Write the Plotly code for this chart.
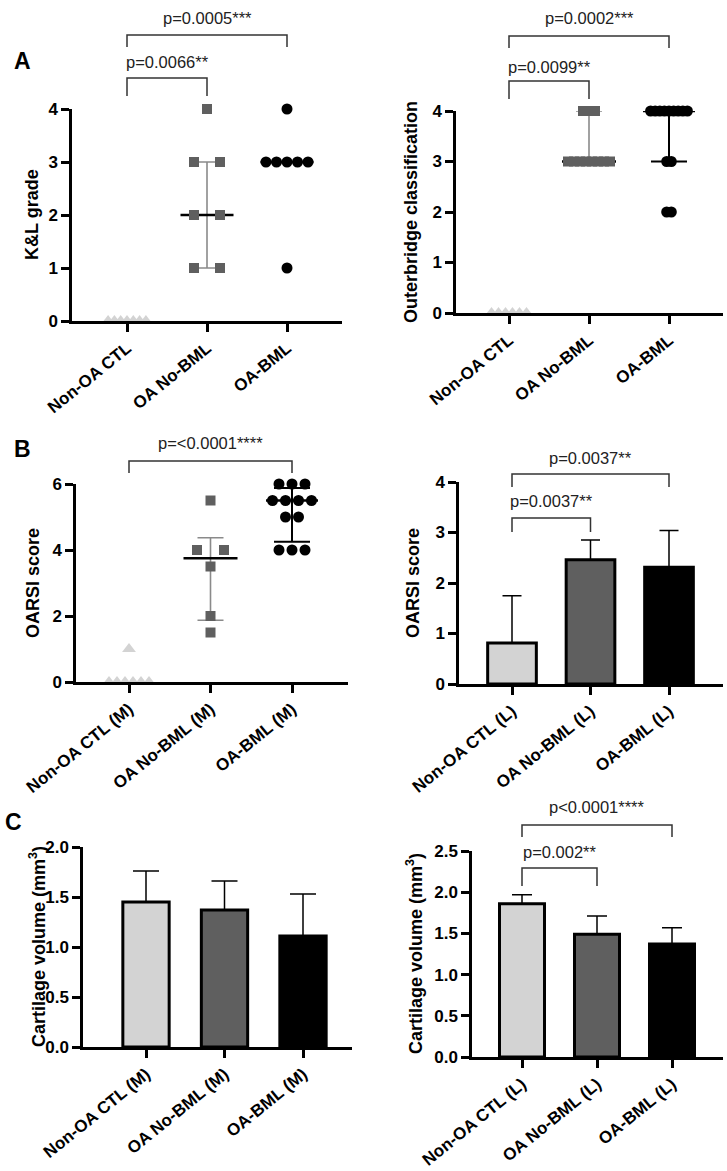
import plotly.graph_objects as go
from collections import Counter

W, H = 727, 1171
FONT = "Liberation Sans, Arial, Helvetica, sans-serif"

# ---------------- data ----------------
cats_A = ["Non-OA CTL", "OA No-BML", "OA-BML"]
cats_M = ["Non-OA CTL (M)", "OA No-BML (M)", "OA-BML (M)"]
cats_L = ["Non-OA CTL (L)", "OA No-BML (L)", "OA-BML (L)"]

# A left: K&L grade (individual values, median with IQR)
kl_ctl = [0, 0, 0, 0, 0, 0, 0]
kl_nobml = [4, 3, 3, 2, 2, 1, 1]
kl_bml = [4, 3, 3, 3, 3, 3, 1]
kl_center = [0, 2, 3]
kl_low = [0, 1, 3]
kl_high = [0, 3, 3]

# A right: Outerbridge classification
ob_ctl = [0, 0, 0, 0, 0, 0]
ob_nobml = [4, 4, 4, 3, 3, 3, 3, 3, 3, 3, 3]
ob_bml = [4, 4, 4, 4, 4, 4, 4, 4, 4, 3, 3, 2, 2]
ob_center = [0, 3, 4]
ob_low = [0, 3, 3]
ob_high = [0, 4, 4]

# B left: OARSI score (M), mean with SD
om_ctl = [1, 0, 0, 0, 0, 0, 0]
om_nobml = [5.5, 4, 4, 3.5, 2, 1.5]
om_bml = [6, 6, 6, 5.5, 5.5, 5.5, 5.5, 5, 5, 4, 4, 4]
om_center = [0, 3.75, 5.5]
om_low = [0, 1.87, 4.25]
om_high = [0, 4.37, 5.88]

# B right: OARSI score (L), mean + SD
ol_mean = [0.81, 2.46, 2.31]
ol_sd = [0.94, 0.39, 0.73]

# C: cartilage volume (mm^3), mean + SD
vm_mean = [1.45, 1.37, 1.11]
vm_sd = [0.31, 0.29, 0.42]
vl_mean = [1.86, 1.49, 1.37]
vl_sd = [0.11, 0.22, 0.20]

# p-value labels
p_A1 = ["p=0.0005***", "p=0.0066**"]
p_A2 = ["p=0.0002***", "p=0.0099**"]
p_B1 = ["p=<0.0001****"]
p_B2 = ["p=0.0037**", "p=0.0037**"]
p_C2 = ["p<0.0001****", "p=0.002**"]

# ---------------- styles ----------------
C_LIGHT = "#d3d3d3"
C_DARK = "#5f5f5f"
C_BLACK = "#000000"
C_ERRGRAY = "#8a8a8a"
BAR_COLORS = [C_LIGHT, C_DARK, C_BLACK]

# panel geometry in pixels: axis x extent, tick 0 / tick 2 x, axis y bottom/top
panels = {
    1: dict(px=(72, 342), tk=(127, 287), py=(321, 109), yr=[0, 4], dt=1, fmt="d",
            cats=cats_A, title="K&L grade", tx=32),
    2: dict(px=(456, 723), tk=(509, 669), py=(313, 111), yr=[0, 4], dt=1, fmt="d",
            cats=cats_A, title="Outerbridge classification", tx=411),
    3: dict(px=(76, 348), tk=(129, 292), py=(682, 484), yr=[0, 6], dt=2, fmt="d",
            cats=cats_M, title="OARSI score", tx=33),
    4: dict(px=(459, 723), tk=(512, 669), py=(684, 482), yr=[0, 4], dt=1, fmt="d",
            cats=cats_L, title="OARSI score", tx=413),
    5: dict(px=(83, 352), tk=(146, 303), py=(1047, 847), yr=[0, 2], dt=0.5, fmt=".1f",
            cats=cats_M, title="Cartilage volume (mm<sup>3</sup>)", tx=37),
    6: dict(px=(472, 723), tk=(522, 672), py=(1057, 851), yr=[0, 2.5], dt=0.5, fmt=".1f",
            cats=cats_L, title="Cartilage volume (mm<sup>3</sup>)", tx=414),
}


def yp(pix):
    return 1 - pix / H


def sfx(n):
    return "" if n == 1 else str(n)


def swarm(values, step):
    counts = Counter(values)
    seen = {}
    out = []
    for v in values:
        k = seen.get(v, 0)
        seen[v] = k + 1
        out.append((k - (counts[v] - 1) / 2) * step)
    return out


fig = go.Figure()
layout = dict(
    width=W, height=H, margin=dict(l=0, r=0, t=0, b=0),
    paper_bgcolor="white", plot_bgcolor="white", showlegend=False,
    font=dict(family=FONT, color="black"),
)
annotations = []
shapes = []

for n, p in panels.items():
    sp = (p["tk"][1] - p["tk"][0]) / 2
    p["sp"] = sp
    xr = [(p["px"][0] - p["tk"][0]) / sp, (p["px"][1] - p["tk"][0]) / sp]
    s = sfx(n)
    layout["xaxis" + s] = dict(
        domain=[p["px"][0] / W, p["px"][1] / W], range=xr, anchor="y" + s,
        tickmode="array", tickvals=[0, 1, 2], ticktext=p["cats"], tickangle=-39,
        tickfont=dict(family=FONT, size=17, color="black", weight="bold"),
        showline=True, linewidth=2.5, linecolor="black", ticks="outside",
        ticklen=8, tickwidth=2.5, tickcolor="black", showgrid=False,
        zeroline=False, automargin=False, fixedrange=True,
    )
    layout["yaxis" + s] = dict(
        domain=[yp(p["py"][0]), yp(p["py"][1])], range=p["yr"], anchor="x" + s,
        tick0=0, dtick=p["dt"], tickformat=p["fmt"],
        tickfont=dict(family=FONT, size=17, color="black", weight="bold"),
        showline=True, linewidth=2.5, linecolor="black", ticks="outside",
        ticklen=8, tickwidth=2.5, tickcolor="black", showgrid=False,
        zeroline=False, automargin=False, fixedrange=True,
    )
    annotations.append(dict(
        xref="paper", yref="paper", x=p["tx"] / W,
        y=(yp(p["py"][0]) + yp(p["py"][1])) / 2, text=p["title"], textangle=-90,
        showarrow=False, xanchor="center", yanchor="middle",
        font=dict(family=FONT, size=18, color="black", weight="bold"),
    ))


def add_points(n, i, values, symbol, color, size, step_px):
    s = sfx(n)
    offs = swarm(values, step_px / panels[n]["sp"])
    fig.add_trace(go.Scatter(
        x=[i + o for o in offs], y=values, mode="markers",
        marker=dict(symbol=symbol, color=color, size=size, line=dict(width=0)),
        cliponaxis=False, xaxis="x" + s, yaxis="y" + s, hoverinfo="skip",
    ))


def add_center(n, i, center, low, high, err_color, thick, cap_px, half_px):
    s = sfx(n)
    sp = panels[n]["sp"]
    fig.add_trace(go.Scatter(
        x=[i], y=[center], mode="markers",
        marker=dict(size=1, color="rgba(0,0,0,0)"),
        error_y=dict(type="data", symmetric=False, array=[high - center],
                     arrayminus=[center - low], color=err_color,
                     thickness=thick, width=cap_px),
        error_x=dict(type="data", array=[half_px / sp], color="black",
                     thickness=2.5, width=0),
        cliponaxis=False, xaxis="x" + s, yaxis="y" + s, hoverinfo="skip",
    ))


def add_bars(n, means, sds, width, cap_px):
    s = sfx(n)
    fig.add_trace(go.Bar(
        x=[0, 1, 2], y=means, width=width,
        marker=dict(color=BAR_COLORS, line=dict(color="black", width=3)),
        error_y=dict(type="data", symmetric=False, array=sds,
                     arrayminus=[0] * len(sds), color="black",
                     thickness=1.5, width=cap_px),
        xaxis="x" + s, yaxis="y" + s, hoverinfo="skip",
    ))


def bracket(n, a, b, y_h, y_leg, y_txt, text):
    s = sfx(n)
    shapes.append(dict(
        type="path", xref="x" + s, yref="paper",
        path=f"M {a},{yp(y_leg)} L {a},{yp(y_h)} L {b},{yp(y_h)} L {b},{yp(y_leg)}",
        line=dict(color="#333333", width=1.5),
    ))
    annotations.append(dict(
        xref="x" + s, yref="paper", x=(a + b) / 2, y=yp(y_txt), text=text,
        showarrow=False, xanchor="center", yanchor="middle",
        font=dict(family=FONT, size=16.5, color="#222222"),
    ))


# ---- Panel A left ----
add_center(1, 1, kl_center[1], kl_low[1], kl_high[1], C_ERRGRAY, 1.6, 13, 26.5)
add_center(1, 2, kl_center[2], kl_low[2], kl_high[2], C_BLACK, 2, 18, 26.5)
add_points(1, 0, kl_ctl, "triangle-up", C_LIGHT, 12, 6.3)
add_points(1, 1, kl_nobml, "square", C_DARK, 10, 26)
add_points(1, 2, kl_bml, "circle", C_BLACK, 11, 10.5)
bracket(1, 0, 2, 35, 47, 18, p_A1[0])
bracket(1, 0, 1, 78, 96, 62, p_A1[1])

# ---- Panel A right ----
add_center(2, 1, ob_center[1], ob_low[1], ob_high[1], C_ERRGRAY, 1.6, 13, 27)
add_center(2, 2, ob_center[2], ob_low[2], ob_high[2], C_BLACK, 2, 18, 26)
add_points(2, 0, ob_ctl, "triangle-up", C_LIGHT, 12, 7)
add_points(2, 1, ob_nobml, "square", C_DARK, 10, 6)
add_points(2, 2, ob_bml, "circle", C_BLACK, 11, 4.6)
bracket(2, 0, 2, 36, 48, 18, p_A2[0])
bracket(2, 0, 1, 81, 99, 67, p_A2[1])

# ---- Panel B left ----
add_center(3, 1, om_center[1], om_low[1], om_high[1], C_ERRGRAY, 1.6, 13, 27)
add_center(3, 2, om_center[2], om_low[2], om_high[2], C_BLACK, 2, 18, 26)
add_points(3, 0, om_ctl, "triangle-up", C_LIGHT, 12, 8)
add_points(3, 1, om_nobml, "square", C_DARK, 10, 27)
add_points(3, 2, om_bml, "circle", C_BLACK, 11, 13)
bracket(3, 0, 2, 461, 473, 443, p_B1[0])

# ---- Panel B right ----
add_bars(4, ol_mean, ol_sd, 0.62, 9.5)
bracket(4, 0, 2, 474, 487, 458, p_B2[0])
bracket(4, 0, 1, 518, 532, 501, p_B2[1])

# ---- Panel C left ----
add_bars(5, vm_mean, vm_sd, 0.59, 13)

# ---- Panel C right ----
add_bars(6, vl_mean, vl_sd, 0.60, 10)
bracket(6, 0, 2, 825, 837, 807, p_C2[0])
bracket(6, 0, 1, 868, 886, 852, p_C2[1])

# panel letters
for letter, (lx, ly) in {"A": (22, 61), "B": (22, 449), "C": (13, 822)}.items():
    annotations.append(dict(
        xref="paper", yref="paper", x=lx / W, y=yp(ly), text=letter,
        showarrow=False, xanchor="center", yanchor="middle",
        font=dict(family=FONT, size=23, color="black", weight="bold"),
    ))

layout["annotations"] = annotations
layout["shapes"] = shapes
fig.update_layout(**layout)

fig.write_html("out.html", config={"displayModeBar": False},
               post_script="document.body.style.margin='0';document.body.style.padding='0';")
